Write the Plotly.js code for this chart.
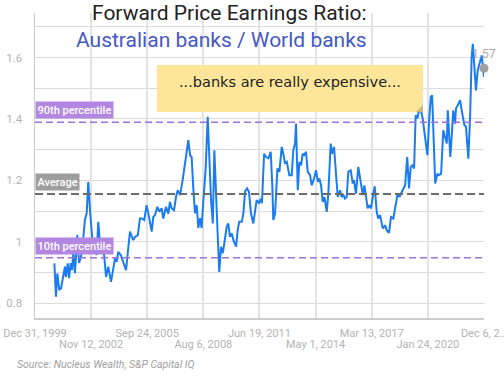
<!DOCTYPE html>
<html>
<head>
<meta charset="utf-8">
<script src="https://cdn.plot.ly/plotly-3.0.1.min.js"></script>
<style>
html,body{margin:0;padding:0;background:#fff;}
#chart{width:504px;height:378px;}
</style>
</head>
<body>
<div id="chart"></div>
<script>
// Time in decimal years, ratio values
const years = [2000.99,2001.07,2001.14,2001.24,2001.33,2001.45,2001.53,2001.58,2001.67,2001.74,2001.82,2001.89,2001.96,2002.04,2002.16,2002.25,2002.35,2002.47,2002.55,2002.64,2002.72,2002.81,2002.90,2002.98,2003.06,2003.15,2003.23,2003.32,2003.41,2003.49,2003.63,2003.74,2003.88,2003.97,2004.09,2004.17,2004.25,2004.38,2004.48,2004.65,2004.77,2004.85,2004.95,2005.02,2005.11,2005.25,2005.36,2005.45,2005.58,2005.70,2005.79,2005.96,2006.04,2006.13,2006.25,2006.35,2006.47,2006.55,2006.69,2006.81,2006.89,2006.98,2007.10,2007.20,2007.29,2007.41,2007.54,2007.66,2007.75,2007.83,2007.92,2008.00,2008.08,2008.17,2008.26,2008.34,2008.43,2008.51,2008.60,2008.72,2008.82,2008.90,2008.99,2009.08,2009.16,2009.28,2009.36,2009.41,2009.50,2009.59,2009.67,2009.79,2009.87,2009.96,2010.05,2010.13,2010.27,2010.35,2010.43,2010.56,2010.64,2010.73,2010.83,2010.93,2011.03,2011.15,2011.32,2011.44,2011.53,2011.59,2011.70,2011.80,2011.92,2012.04,2012.12,2012.17,2012.26,2012.38,2012.48,2012.60,2012.68,2012.77,2012.86,2012.99,2013.11,2013.19,2013.28,2013.33,2013.42,2013.50,2013.59,2013.67,2013.75,2013.84,2013.93,2014.05,2014.13,2014.25,2014.35,2014.45,2014.52,2014.61,2014.69,2014.78,2014.90,2014.98,2015.10,2015.17,2015.27,2015.37,2015.46,2015.58,2015.66,2015.75,2015.83,2015.92,2016.00,2016.12,2016.23,2016.29,2016.39,2016.51,2016.60,2016.74,2016.82,2016.91,2016.99,2017.07,2017.16,2017.25,2017.35,2017.45,2017.53,2017.62,2017.76,2017.88,2017.96,2018.08,2018.18,2018.30,2018.44,2018.52,2018.61,2018.69,2018.81,2018.90,2019.01,2019.10,2019.19,2019.27,2019.36,2019.44,2019.53,2019.63,2019.71,2019.80,2019.92,2020.04,2020.14,2020.21,2020.28,2020.38,2020.44,2020.55,2020.63,2020.74,2020.80,2020.85,2020.94,2021.03,2021.08,2021.16,2021.21,2021.30,2021.36,2021.45,2021.50,2021.59,2021.71,2021.79,2021.93,2022.01,2022.13,2022.22,2022.30,2022.36,2022.44,2022.52,2022.61,2022.73,2022.81,2022.88,2022.93];
const ratio = [0.930,0.821,0.897,0.843,0.849,0.898,0.919,0.886,0.930,0.882,0.931,0.908,0.967,0.898,1.022,0.931,0.951,1.016,1.071,1.093,1.195,1.103,1.028,0.963,1.006,0.957,1.065,0.996,0.963,0.984,0.886,0.919,0.870,0.908,0.947,0.935,0.967,0.957,0.940,0.908,0.984,1.033,1.016,1.006,1.016,1.022,1.076,1.076,1.071,1.119,1.092,1.033,1.081,1.087,1.114,1.098,1.109,1.076,1.114,1.092,1.130,1.109,1.103,1.146,1.168,1.152,1.201,1.249,1.298,1.331,1.282,1.276,1.179,1.093,1.119,1.045,1.077,1.045,1.136,1.244,1.407,1.287,1.136,1.060,1.298,1.103,0.951,0.902,0.984,0.963,0.996,1.049,1.060,1.016,1.027,1.006,0.984,1.038,1.065,1.065,1.092,1.165,1.174,1.162,1.092,1.060,1.136,1.125,1.141,1.126,1.287,1.276,1.272,1.293,1.179,1.071,1.092,1.239,1.228,1.309,1.287,1.255,1.260,1.217,1.217,1.298,1.320,1.385,1.168,1.260,1.249,1.287,1.282,1.293,1.228,1.217,1.184,1.206,1.233,1.195,1.206,1.184,1.130,1.146,1.098,1.157,1.320,1.287,1.309,1.222,1.146,1.168,1.146,1.152,1.141,1.146,1.228,1.233,1.190,1.201,1.157,1.244,1.201,1.152,1.184,1.136,1.109,1.119,1.109,1.146,1.181,1.098,1.076,1.087,1.044,1.054,1.038,1.029,1.081,1.076,1.125,1.157,1.146,1.157,1.168,1.184,1.276,1.174,1.244,1.249,1.239,1.412,1.402,1.434,1.428,1.401,1.341,1.282,1.407,1.472,1.477,1.276,1.190,1.222,1.217,1.222,1.287,1.363,1.341,1.320,1.428,1.298,1.276,1.363,1.428,1.385,1.434,1.445,1.461,1.428,1.380,1.374,1.271,1.407,1.602,1.645,1.558,1.493,1.558,1.585,1.607,1.569,1.537];

const lastYear = 2022.93;
const lastValue = 1.565;
const lastLabel = "1.57";

const pct90 = 1.389;
const average = 1.156;
const pct10 = 0.948;

const tickRow1Vals = [2000.0, 2005.729, 2011.463, 2017.195, 2022.929];
const tickRow1Text = ["Dec 31, 1999", "Sep 24, 2005", "Jun 19, 2011", "Mar 13, 2017", "Dec 6, 2\u2026"];
const tickRow2Vals = [2002.864, 2008.596, 2014.329, 2020.063];
const tickRow2Text = ["Nov 12, 2002", "Aug 6, 2008", "May 1, 2014", "Jan 24, 2020"];

const yTickVals = [0.8, 1.0, 1.2, 1.4, 1.6];
const yTickText = ["0.8", "1", "1.2", "1.4", "1.6"];
const yMinorVals = [0.9, 1.1, 1.3, 1.5, 1.7];

const xRange = [2000.0, 2022.93];
const yRange = [0.752, 1.745];

const FONT = "Roboto, 'Noto Sans', Arial, sans-serif";
const tickFont = {family: FONT, size: 11, color: "#b3b3b3"};

const traces = [
  {
    x: years, y: ratio, type: "scatter", mode: "lines",
    line: {color: "#1a7cf0", width: 2},
    hoverinfo: "skip", xaxis: "x", yaxis: "y"
  },
  {
    x: [lastYear], y: [lastValue], type: "scatter", mode: "markers",
    marker: {color: "#9e9e9e", size: 9},
    hoverinfo: "skip", xaxis: "x2", yaxis: "y", cliponaxis: false
  }
];

function refLine(v, color, width, dash) {
  return {type: "line", xref: "paper", x0: 0, x1: 1, yref: "y", y0: v, y1: v,
          line: {color: color, width: width, dash: dash}};
}
function refLabel(v, text, bg) {
  return {xref: "paper", x: 0, xanchor: "left", yref: "y", y: v, yanchor: "bottom",
          yshift: 3, text: text, showarrow: false, bgcolor: bg, borderpad: 1.5,
          font: {family: FONT, size: 11, color: "#ffffff", weight: 500}};
}

const layout = {
  width: 504, height: 378,
  margin: {l: 35, r: 20, t: 13, b: 60, pad: 0},
  paper_bgcolor: "#ffffff", plot_bgcolor: "#ffffff",
  showlegend: false,
  font: {family: FONT},
  xaxis: {
    range: xRange, tickmode: "array", tickvals: tickRow1Vals, ticktext: tickRow1Text,
    showgrid: true, gridcolor: "#e3e3e3", gridwidth: 2,
    showline: true, linecolor: "#cccccc", linewidth: 1.5,
    zeroline: false, ticks: "", tickfont: tickFont, ticklabelstandoff: 4,
    ticklabeloverflow: "allow"
  },
  xaxis2: {
    range: xRange, overlaying: "x", side: "bottom", anchor: "y",
    tickmode: "array", tickvals: tickRow2Vals, ticktext: tickRow2Text,
    showgrid: true, gridcolor: "#e3e3e3", gridwidth: 2,
    showline: false, zeroline: false, ticks: "", tickfont: tickFont, ticklabelstandoff: 18,
    ticklabeloverflow: "allow"
  },
  yaxis: {
    range: yRange, tickmode: "array", tickvals: yTickVals, ticktext: yTickText,
    showgrid: true, gridcolor: "#dcdcdc", gridwidth: 1,
    minor: {tickmode: "array", tickvals: yMinorVals, showgrid: true, gridcolor: "#dcdcdc", gridwidth: 1, ticks: ""},
    showline: true, linecolor: "#cccccc", linewidth: 1.5,
    zeroline: false, ticks: "", tickfont: {family: FONT, size: 11.5, color: "#b3b3b3"},
    ticklabelstandoff: 9
  },
  shapes: [
    refLine(pct90, "#a070dc", 1.5, "7px,4px"),
    refLine(pct10, "#a070dc", 1.5, "7px,4px"),
    refLine(average, "#6b6b6b", 2, "8px,4px"),
    {type: "rect", xref: "paper", yref: "paper", x0: 0.2717, x1: 0.8641, y0: 0.6754, y1: 0.8295,
     fillcolor: "#fde699", line: {width: 0}, layer: "above"},
    {type: "path", xref: "paper", yref: "paper",
     path: "M 0.8485 0.6754 L 0.8641 0.6984 L 0.8641 0.6754 Z",
     fillcolor: "#cdb57e", line: {width: 0}, layer: "above"}
  ],
  annotations: [
    refLabel(pct90, "90th percentile", "#b287e2"),
    refLabel(average, "Average", "#9e9e9e"),
    refLabel(pct10, "10th percentile", "#b287e2"),
    {xref: "paper", yref: "paper", x: 0.744, xanchor: "right", y: 1.0, yanchor: "middle",
     yshift: 0, text: "Forward Price Earnings Ratio:", showarrow: false,
     font: {family: FONT, size: 21, color: "#222222"}},
    {xref: "paper", yref: "paper", x: 0.744, xanchor: "right", y: 0.913, yanchor: "middle",
     text: "Australian banks / World banks", showarrow: false,
     font: {family: FONT, size: 21, color: "#4558c4"}},
    {xref: "paper", yref: "paper", x: 0.568, xanchor: "center", y: 0.774, yanchor: "middle",
     text: "...banks are really expensive...", showarrow: false,
     font: {family: "'DejaVu Sans', sans-serif", size: 14.5, color: "#222222"}},
    {xref: "x2", yref: "y", x: lastYear, y: lastValue, xanchor: "center", yanchor: "bottom",
     yshift: 5, text: lastLabel, showarrow: false,
     font: {family: FONT, size: 12, color: "#aaaaaa"}},
    {xref: "paper", yref: "paper", x: -0.045, xanchor: "left", y: -0.153, yanchor: "middle",
     text: "<i>Source: Nucleus Wealth, S&P Capital IQ</i>", showarrow: false,
     font: {family: FONT, size: 10.5, color: "#a0a0a0"}}
  ]
};

Plotly.newPlot("chart", traces, layout, {displayModeBar: false, staticPlot: true});
</script>
</body>
</html>
